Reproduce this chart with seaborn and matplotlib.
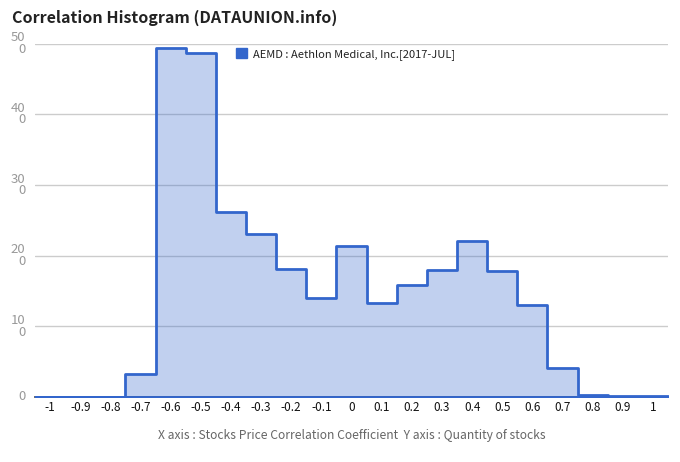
import numpy as np
import pandas as pd
import seaborn as sns
import matplotlib
matplotlib.use("Agg")
import matplotlib.pyplot as plt

# =========================
# Data
# =========================
bin_centers = [-1.0, -0.9, -0.8, -0.7, -0.6, -0.5, -0.4, -0.3, -0.2, -0.1, 0.0,
               0.1, 0.2, 0.3, 0.4, 0.5, 0.6, 0.7, 0.8, 0.9, 1.0]
stock_counts = [0, 0, 0, 33, 494, 486, 262, 230, 181, 140, 214,
                133, 159, 180, 221, 178, 130, 41, 3, 1, 2]
x_tick_labels = ["-1", "-0.9", "-0.8", "-0.7", "-0.6", "-0.5", "-0.4", "-0.3", "-0.2", "-0.1", "0",
                 "0.1", "0.2", "0.3", "0.4", "0.5", "0.6", "0.7", "0.8", "0.9", "1"]
y_ticks = [0, 100, 200, 300, 400, 500]
y_tick_labels = ["0", "10\n0", "20\n0", "30\n0", "40\n0", "50\n0"]
series_name = "AEMD : Aethlon Medical, Inc.[2017-JUL]"

df = pd.DataFrame({"corr": bin_centers, "count": stock_counts})
bin_edges = [round(c - 0.05, 2) for c in bin_centers] + [1.05]

# =========================
# Plot
# =========================
sns.set_style("white")
plt.rcParams["font.family"] = ["Noto Sans CJK KR", "DejaVu Sans"]

line_color = "#3366cc"

fig = plt.figure(figsize=(6.8, 4.62), dpi=100)
ax = fig.add_axes([35 / 680, 1 - 397 / 462, (668 - 35) / 680, (397 - 43.5) / 462])

sns.histplot(data=df, x="corr", weights="count", bins=bin_edges,
             element="step", fill=True, color=line_color, alpha=0.3,
             linewidth=2, edgecolor=line_color, ax=ax, label=series_name)
for coll in ax.collections:
    coll.set_joinstyle("round")
    coll.set_zorder(6)
for ln in ax.lines:
    ln.set_solid_joinstyle("round")
    ln.set_zorder(7)

ax.set_xlim(-1.05, 1.05)
ax.set_ylim(0, 500)

ax.set_xticks(bin_centers)
ax.set_xticklabels(x_tick_labels, fontsize=8.5, color="#111111", fontweight="medium")
ax.set_yticks(y_ticks)
ax.set_yticklabels(y_tick_labels, fontsize=9.5, color="#999999", linespacing=0.85)
ax.tick_params(axis="both", length=0)
ax.tick_params(axis="x", pad=3)
ax.tick_params(axis="y", pad=7)

for t in ax.get_yticklabels():
    t.set_verticalalignment("center")

# grid lines
for y in y_ticks[1:]:
    ax.axhline(y, color="#cccccc", linewidth=1, zorder=0)

for side in ["top", "right", "left"]:
    ax.spines[side].set_visible(False)
ax.spines["bottom"].set_color("#333333")
ax.spines["bottom"].set_linewidth(1.2)
ax.spines["bottom"].set_zorder(2)

ax.set_ylabel("")
ax.set_xlabel("X axis : Stocks Price Correlation Coefficient  Y axis : Quantity of stocks",
              fontsize=8.7, color="#666666", labelpad=11)

# legend
handle = plt.Rectangle((0, 0), 1, 1, facecolor=line_color, edgecolor=line_color)
ax.legend([handle], [series_name], loc="upper left", bbox_to_anchor=(0.31, 1.0),
          frameon=False, fontsize=8, handlelength=1.0, handleheight=1.0,
          handletextpad=0.6, labelcolor="#222222", borderaxespad=0.0)

fig.text(12 / 680, 1 - 18 / 462, "Correlation Histogram (DATAUNION.info)",
         fontsize=11.5, fontweight="bold", color="#222222", va="center", ha="left")

fig.savefig("out.png", dpi=100)
